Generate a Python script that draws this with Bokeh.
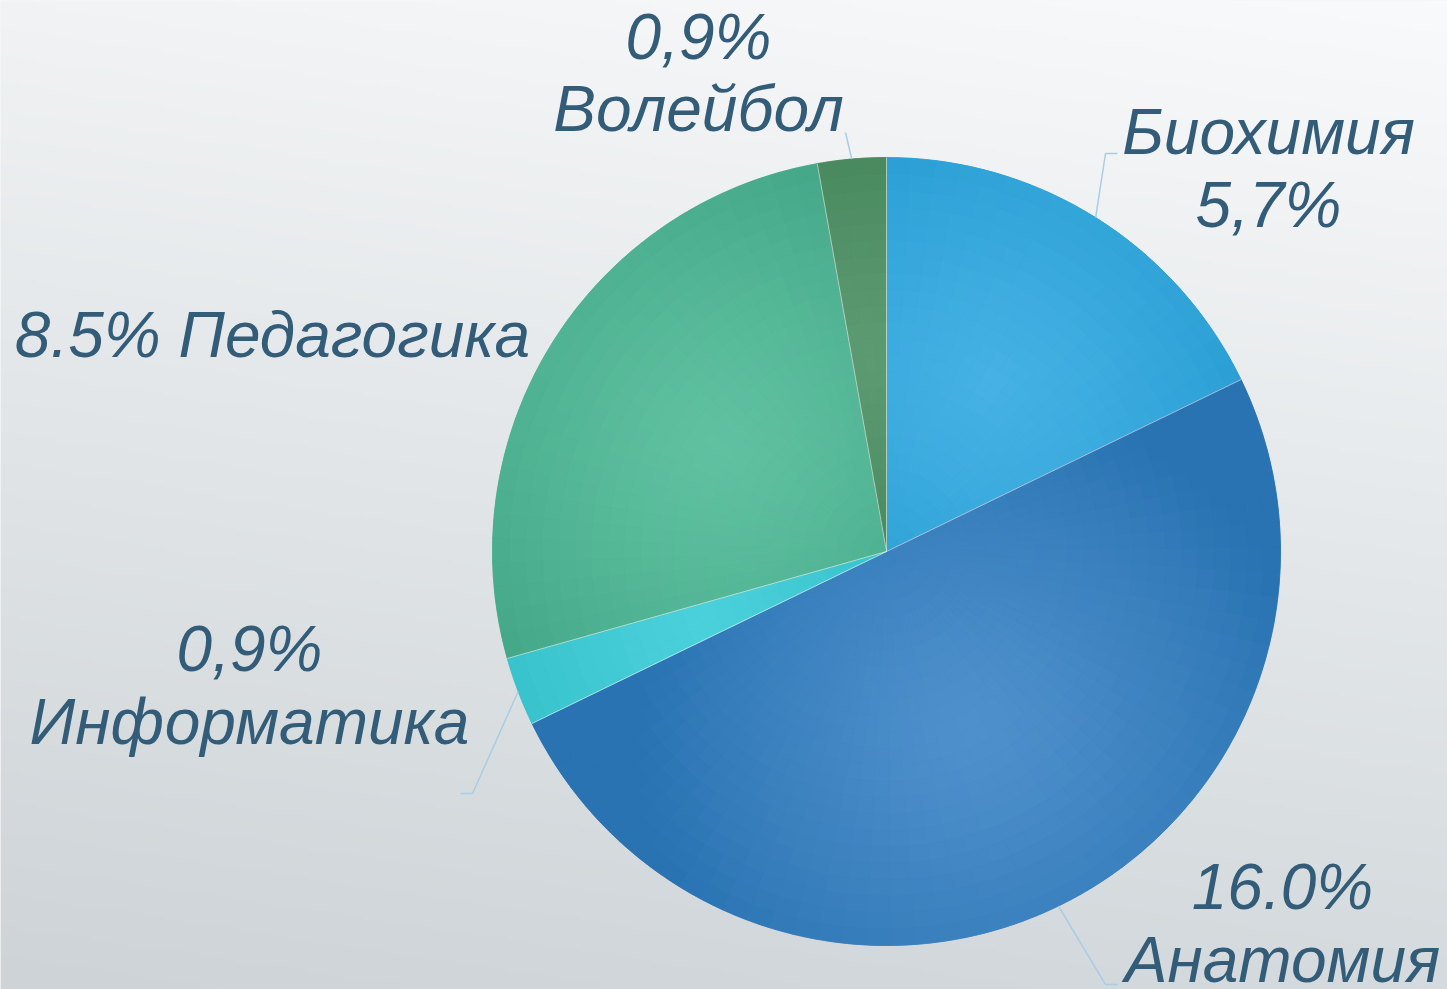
import numpy as np
from bokeh.plotting import figure
from bokeh.models import Range1d
from bokeh.embed import file_html
from bokeh.resources import INLINE
from bokeh.core.properties import value

# ---------------- data ----------------
categories = ["Биохимия", "Анатомия", "Информатика", "Педагогика", "Волейбол"]
shares = [5.7, 16.0, 0.9, 8.5, 0.9]
pct_labels = ["5,7%", "16.0%", "0,9%", "8.5%", "0,9%"]

# ---------------- style ----------------
base_colors = ["#31A5DA", "#3A81BF", "#36C3CD", "#4EB392", "#478A5C"]
light_colors = ["#45B1E4", "#4E90CC", "#4AD0DA", "#5FC1A0", "#5C9A72"]
dark_colors = ["#1E97CD", "#2973B2", "#24B5BF", "#3FA384", "#367949"]
label_color = "#335C78"
leader_color = "#A9CDE6"
FONT = "Liberation Sans"
FSIZE = "64px"
BASELINE_FIX = 24  # px correction for the renderer's baseline placement

PAGE_H = 989
W, H = 1447, 989
CX, CY, R = 886, PAGE_H - 551, 394

p = figure(width=W, height=H, x_range=Range1d(0, W),
           y_range=Range1d(0, H),
           output_backend="svg", toolbar_location=None, min_border=0)
p.axis.visible = False
p.grid.visible = False
p.outline_line_color = None
p.background_fill_color = "#EEF0F2"
p.border_fill_color = "#FFFFFF"

# ---------------- background gradient ----------------
NY, NX = 300, 80
tl = np.array([241, 243, 244.0]); tr = np.array([249, 250, 251.0])
bl = np.array([205, 211, 215.0]); br = np.array([212, 218, 221.0])
ys = np.linspace(0, 1, NY)[:, None, None]  # 0 = bottom row
xs = np.linspace(0, 1, NX)[None, :, None]
top = tl * (1 - xs) + tr * xs
bot = bl * (1 - xs) + br * xs
rgb = bot * (1 - ys) + top * ys
img = np.empty((NY, NX), dtype=np.uint32)
view = img.view(dtype=np.uint8).reshape((NY, NX, 4))
view[:, :, 0:3] = np.clip(rgb, 0, 255).astype(np.uint8)
view[:, :, 3] = 255
p.image_rgba(image=[img], x=0, y=0, dw=W, dh=H)

# ---------------- pie ----------------
total = float(sum(shares))
cum = np.concatenate([[0.0], np.cumsum(shares)]) / total
starts = np.pi / 2 - 2 * np.pi * cum[1:]
ends = np.pi / 2 - 2 * np.pi * cum[:-1]
mids = (starts + ends) / 2

p.wedge(x=CX, y=CY, radius=R, start_angle=list(starts), end_angle=list(ends),
        direction="anticlock", fill_color=base_colors, line_color=base_colors,
        line_width=0.5)


def hex2rgb(h):
    h = h.lstrip("#")
    return np.array([int(h[i:i + 2], 16) for i in (0, 2, 4)], dtype=float)


# shading cells (radial gradient per slice)
inr, outr, sa, ea, cols = [], [], [], [], []
NR = 24
for i in range(len(shares)):
    a0, a1 = starts[i], ends[i]
    na = max(2, int(np.ceil((a1 - a0) / (2 * np.pi) * 100)))
    gx = CX + 0.5 * R * np.cos(mids[i])
    gy = CY + 0.5 * R * np.sin(mids[i])
    lc, dc = hex2rgb(light_colors[i]), hex2rgb(dark_colors[i])
    redges = np.linspace(0, R, NR + 1)
    aedges = np.linspace(a0, a1, na + 1)
    for k in range(NR):
        for j in range(na):
            rm = (redges[k] + redges[k + 1]) / 2
            am = (aedges[j] + aedges[j + 1]) / 2
            px = CX + rm * np.cos(am)
            py = CY + rm * np.sin(am)
            d = np.hypot(px - gx, py - gy)
            t = np.clip(d / (0.85 * R), 0, 1) ** 1.3
            c = lc * (1 - t) + dc * t
            inr.append(redges[k]); outr.append(redges[k + 1])
            sa.append(aedges[j]); ea.append(aedges[j + 1])
            cols.append("#%02x%02x%02x" % tuple(int(round(v)) for v in c))

p.annular_wedge(x=CX, y=CY, inner_radius=inr, outer_radius=outr,
                start_angle=sa, end_angle=ea, direction="anticlock",
                fill_color=cols, line_color=cols, line_width=0.7)

# slice separators
p.segment(x0=CX, y0=CY, x1=list(CX + R * np.cos(ends)), y1=list(CY + R * np.sin(ends)),
          line_color="white", line_alpha=0.55, line_width=1)

# ---------------- leader lines ----------------
leader_pts = {
    "Биохимия": [(1105, 153), (1117, 153)],
    "Анатомия": [(1105, 984), (1117, 984)],
    "Информатика": [(472, 793), (460, 793)],
    "Волейбол": [(845, 132)],
}
lxs, lys = [], []
for i, cat in enumerate(categories):
    if cat not in leader_pts:
        continue
    xs_ = [CX + R * np.cos(mids[i])]
    ys_ = [CY + R * np.sin(mids[i])]
    for (px, py) in leader_pts[cat]:
        xs_.append(px)
        ys_.append(PAGE_H - py)
    lxs.append(xs_); lys.append(ys_)
p.multi_line(xs=lxs, ys=lys, line_color=leader_color, line_width=1.5)

# ---------------- labels ----------------
label_layout = {
    "Биохимия": (1268, [155, 228], "name_pct"),
    "Анатомия": (1282, [910, 983], "pct_name"),
    "Информатика": (249, [672, 745], "pct_name"),
    "Педагогика": (272, [358], "inline"),
    "Волейбол": (698, [60, 132], "pct_name"),
}
tx, ty, tt = [], [], []
for i, cat in enumerate(categories):
    x0, bases, mode = label_layout[cat]
    if mode == "name_pct":
        lines = [cat, pct_labels[i]]
    elif mode == "pct_name":
        lines = [pct_labels[i], cat]
    else:
        lines = [pct_labels[i] + " " + cat]
    for ln, b in zip(lines, bases):
        tx.append(x0); ty.append(PAGE_H - b + BASELINE_FIX); tt.append(ln)

p.text(x=tx, y=ty, text=tt, text_font=value(FONT), text_font_size=FSIZE,
       text_font_style="italic", text_color=label_color,
       text_align="center", text_baseline="alphabetic")

open("out.html", "w").write(file_html(p, INLINE))
